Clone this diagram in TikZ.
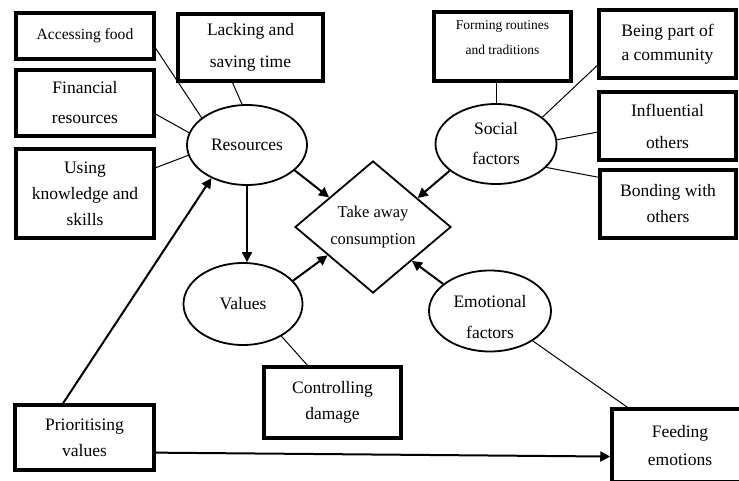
\documentclass[tikz,border=0pt]{standalone}
\usepackage{fontspec}
\setmainfont{Liberation Serif}
\usepackage{tikz}
\usetikzlibrary{arrows.meta,shapes.geometric}

\begin{document}
\begin{tikzpicture}[x=1pt,y=-1pt,
		box/.style={draw,line width=3.5pt,align=center,inner sep=0pt,font=\fontsize{17.5}{28}\selectfont},
		oval/.style={draw,ellipse,line width=1.8pt,align=center,inner sep=0pt,font=\fontsize{17.5}{30}\selectfont},
		conn/.style={line width=1pt},
		arr/.style={line width=2pt,-{Triangle[length=10pt,width=10pt]}}]
		\useasboundingbox (0,0) rectangle (739,481);
		% boxes on the left
		\node[box,minimum width=138,minimum height=46] (acc) at (85,36) {\fontsize{15.6}{20}\selectfont Accessing food};
		\node[box,minimum width=145,minimum height=67,font=\fontsize{17.5}{32}\selectfont] (lack) at (250.5,47.5) {Lacking and\\saving time};
		\node[box,minimum width=138,minimum height=66,font=\fontsize{17.5}{30}\selectfont] (fin) at (85,103) {Financial\\resources};
		\node[box,minimum width=138,minimum height=89,font=\fontsize{17.5}{26}\selectfont] (using) at (85,193.5) {Using\\knowledge and\\skills};
		\node[box,minimum width=139,minimum height=65,font=\fontsize{17.5}{26}\selectfont] (prio) at (84.5,437.5) {Prioritising\\values};
		\node[box,minimum width=137,minimum height=71,font=\fontsize{17.5}{26}\selectfont] (ctrl) at (332.5,402.5) {Controlling\\damage};
		% boxes on the right
		\node[box,minimum width=137,minimum height=69] (form) at (502.5,46.5) {};
		\node[font=\fontsize{13.5}{25}\selectfont,align=center] (formtxt) at (502.5,38) {Forming routines\\and traditions};
		\node[box,minimum width=137,minimum height=68,font=\fontsize{17.5}{24}\selectfont] (being) at (667.5,44) {Being part of\\a community};
		\node[box,minimum width=137,minimum height=68,font=\fontsize{17.5}{32}\selectfont] (infl) at (667.5,126) {Influential\\others};
		\node[box,minimum width=136,minimum height=68,font=\fontsize{17.5}{26}\selectfont] (bond) at (668,204) {Bonding with\\others};
		\node[box,minimum width=136,minimum height=73] (feed) at (680,445.5) {Feeding\\emotions};
		% ellipses and the diamond
		\node[oval,minimum width=120,minimum height=80] (res) at (247,145) {Resources};
		\node[oval,minimum width=121,minimum height=80] (soc) at (496,144) {Social\\factors};
		\node[oval,minimum width=119,minimum height=82] (val) at (243,304) {Values};
		\node[oval,minimum width=122,minimum height=81] (emo) at (490,311) {};
		\node[font=\fontsize{17.5}{31}\selectfont,align=center] (emotxt) at (490,317) {Emotional\\factors};
		\node[draw,diamond,line width=1.8pt,inner sep=0pt,minimum width=156,minimum height=132,align=center,font=\fontsize{16.5}{27}\selectfont] (take) at (373,227) {Take away\\consumption};
		% plain links
		\draw[conn] (acc.-10) -- (res.149);
		\draw[conn] (lack.-117) -- (res.97);
		\draw[conn] (fin.-9) -- (res.168);
		\draw[conn] (using.20) -- (res.190);
		\draw[conn] (soc.north) -- (soc.north |- form.south);
		\draw[conn] (being.-163) -- (soc.30);
		\draw[conn] (infl.185) -- (soc.4);
		\draw[conn] (bond.159) -- (soc.-25);
		\draw[conn] (ctrl.124) -- (val.-40);
		\draw[conn] (emo.-35) -- (feed.144);
		% arrows
		\draw[arr] (res.-28) -- (take.146);
		\draw[arr] (res.south) -- (res.south |- val.north);
		\draw[arr] (prio.122) -- (res.223);
		\draw[arr] (val.25) -- (take.212);
		\draw[arr] (soc.210) -- (take.33);
		\draw[arr] (emo.150) -- (take.-41);
		\draw[arr] (prio.-12) -- (feed.189);
	\end{tikzpicture}
\end{document}
